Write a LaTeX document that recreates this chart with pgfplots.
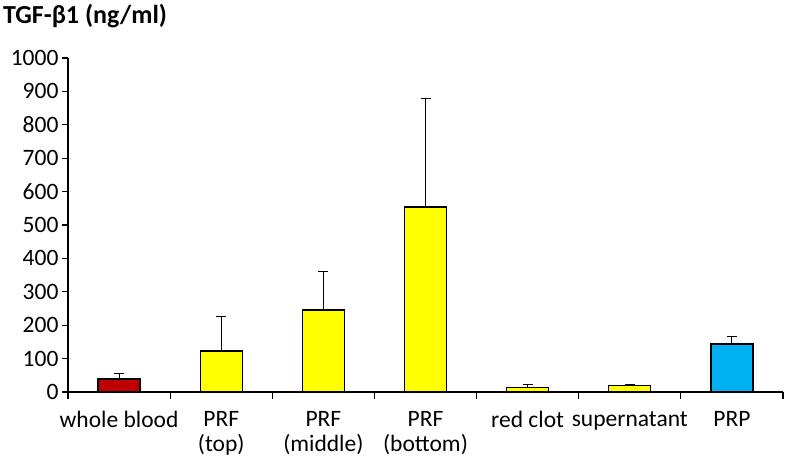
\documentclass[border=0pt]{standalone}
\usepackage{pgfplots}
\pgfplotsset{compat=1.18}
\usepackage{fontspec}
\setmainfont{Carlito}
\definecolor{barred}{HTML}{C00000}
\definecolor{baryellow}{HTML}{FFFF00}
\definecolor{barblue}{HTML}{00B0F0}
\newcommand{\lblfont}{\fontsize{23.5bp}{25bp}\selectfont}
\begin{document}
\begin{tikzpicture}
\begin{axis}[
  scale only axis, width=715bp, height=334bp,
  xmin=-0.5, xmax=6.5, ymin=0, ymax=1000,
  axis lines=left, axis line style={-, line width=1.1bp},
  ytick={0,100,...,1000},
  xtick={0,...,6},
  xticklabels={whole blood,{PRF\\(top)},{PRF\\(middle)},{PRF\\(bottom)},red clot,supernatant,PRP},
  xticklabel style={align=center, yshift=-10bp},
  major x tick style={draw=none},
  minor xtick={-0.5,0.5,...,6.5},
  tick align=outside, major tick length=6bp, minor tick length=7bp,
  every tick/.style={black, line width=1.1bp},
  ticklabel style={font=\lblfont},
  /pgf/number format/assume math mode=true,
  /pgf/number format/1000 sep={},
  ybar, bar width=42bp,
  clip=false,
  error bars/y dir=plus, error bars/y explicit,
  error bars/error bar style={black, line width=0.9bp},
  error bars/error mark options={rotate=90, mark size=5bp, line width=0.9bp, black},
]
\addplot[bar shift=0pt, fill=barred, draw=black, line width=1.4bp]
  table[x=x, y=y, y error=e] {
x y e
0 39 18
};
\addplot[bar shift=0pt, fill=baryellow, draw=black, line width=1.4bp]
  table[x=x, y=y, y error=e] {
x y e
1 123 102
2 245 117
3 554 326
4 14 9
5 20 3
};
\addplot[bar shift=0pt, fill=barblue, draw=black, line width=1.4bp]
  table[x=x, y=y, y error=e] {
x y e
6 144 22
};
\node[anchor=base west, inner sep=0pt, font=\fontsize{26bp}{28bp}\selectfont\bfseries]
  at (rel axis cs:0,1) [xshift=-65bp, yshift=34bp] {TGF-β1 (ng/ml)};
\end{axis}
\path ([shift={(-68bp,-67bp)}]current axis.south west) rectangle ([shift={(718bp,392bp)}]current axis.south west);
\end{tikzpicture}
\end{document}
